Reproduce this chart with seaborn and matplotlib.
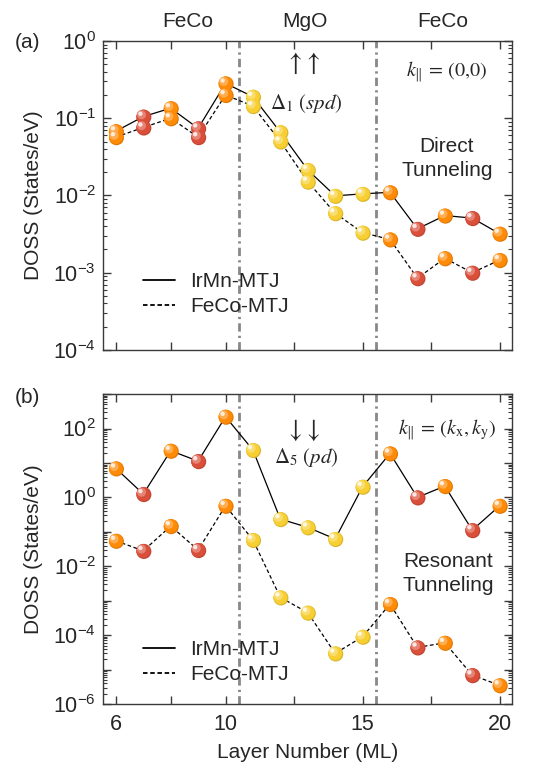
import numpy as np
import pandas as pd
import matplotlib
matplotlib.use('Agg')
import matplotlib.pyplot as plt
import seaborn as sns
import matplotlib.transforms as mtransforms
import matplotlib.colors as mcolors
from matplotlib.lines import Line2D
from matplotlib.ticker import LogLocator, FuncFormatter, FixedLocator, NullFormatter

# ---------------- data ----------------
layers = [6, 7, 8, 9, 10, 11, 12, 13, 14, 15, 16, 17, 18, 19, 20]
layer_group = ['orange', 'red', 'orange', 'red', 'orange',
               'yellow', 'yellow', 'yellow', 'yellow', 'yellow',
               'orange', 'red', 'orange', 'red', 'orange']
group_colors = {'orange': '#FF8A05', 'red': '#DA4F3A', 'yellow': '#F7CF32'}

a_irmn = [0.068, 0.105, 0.135, 0.074, 0.283, 0.19, 0.066, 0.0214, 0.0099,
          0.0105, 0.011, 0.0037, 0.0055, 0.0051, 0.0032]
a_feco = [0.057, 0.076, 0.10, 0.057, 0.20, 0.144, 0.050, 0.0151, 0.0059,
          0.0033, 0.0027, 0.00085, 0.00154, 0.0010, 0.00146]

b_irmn = [6.95, 1.25, 22.6, 11.3, 220, 23.7, 0.234, 0.135, 0.062,
          2.04, 18.9, 1.0, 2.13, 0.112, 0.57]
b_feco = [0.055, 0.028, 0.147, 0.0296, 0.57, 0.058, 0.00125, 0.00045, 2.95e-5,
          9.0e-5, 0.0008, 4.4e-5, 6.0e-5, 6.9e-6, 3.5e-6]

series_names = ['IrMn-MTJ', 'FeCo-MTJ']
region_labels = ['FeCo', 'MgO', 'FeCo']
interfaces = [10.5, 15.5]
xticks_major = [6, 10, 15, 20]
xticks_minor = [8, 12.5, 17.5]


def make_df(irmn, feco):
    rows = []
    for name, vals in zip(series_names, [irmn, feco]):
        for L, g, v in zip(layers, layer_group, vals):
            rows.append({'layer': L, 'group': g, 'series': name, 'doss': v})
    return pd.DataFrame(rows)


df_a = make_df(a_irmn, a_feco)
df_b = make_df(b_irmn, b_feco)

# ---------------- style ----------------
sns.set_theme(style='ticks')
plt.rcParams['font.family'] = ['Liberation Sans', 'DejaVu Sans']
plt.rcParams['mathtext.fontset'] = 'stix'
plt.rcParams['axes.edgecolor'] = '#3a3a3a'
plt.rcParams['axes.linewidth'] = 1.0

FS = 15

fig = plt.figure(figsize=(5.37, 7.68), dpi=100)
ax_a = fig.add_axes([0.1918, 0.5443, 0.7616, 0.4023])
ax_b = fig.add_axes([0.1918, 0.0833, 0.7616, 0.4036])


def lighten(c, f):
    r, g, b = mcolors.to_rgb(c)
    return (r + (1 - r) * f, g + (1 - g) * f, b + (1 - b) * f)


def darken(c, f):
    r, g, b = mcolors.to_rgb(c)
    return (r * (1 - f), g * (1 - f), b * (1 - f))


def draw_panel(ax, df, ylim):
    ax.set_yscale('log')
    sns.lineplot(data=df, x='layer', y='doss', style='series',
                 style_order=series_names,
                 dashes={'IrMn-MTJ': '', 'FeCo-MTJ': (3, 2)},
                 color='black', lw=0.9, ax=ax, legend=False, zorder=2,
                 estimator=None, sort=True)
    for x in interfaces:
        ax.axvline(x, color='#888888', lw=2.0, ls=(0, (3, 1.5, 0.8, 1.5)),
                   zorder=1)
    cols = [group_colors[g] for g in df['group']]
    # darker rim slightly offset down-right (shading)
    tr0 = ax.transData + mtransforms.ScaledTranslation(0.4 / 72, -0.4 / 72, fig.dpi_scale_trans)
    ax.scatter(df['layer'], df['doss'], s=118, c=[darken(c, 0.12) for c in cols],
               edgecolors='none', transform=tr0, zorder=3)
    sns.scatterplot(data=df, x='layer', y='doss', hue='group',
                    palette=group_colors, s=100, edgecolor='none',
                    ax=ax, legend=False, zorder=3.5)
    # sphere-like highlights
    tr1 = ax.transData + mtransforms.ScaledTranslation(-1.3 / 72, 1.3 / 72, fig.dpi_scale_trans)
    tr2 = ax.transData + mtransforms.ScaledTranslation(-2.1 / 72, 2.1 / 72, fig.dpi_scale_trans)
    ax.scatter(df['layer'], df['doss'], s=42, c=[lighten(c, 0.3) for c in cols],
               edgecolors='none', transform=tr1, zorder=4)
    ax.scatter(df['layer'], df['doss'], s=10, c=[lighten(c, 0.85) for c in cols],
               edgecolors='none', transform=tr2, zorder=5)

    ax.set_xlim(5.53, 20.45)
    ax.set_ylim(*ylim)
    ax.xaxis.set_major_locator(FixedLocator(xticks_major))
    ax.xaxis.set_minor_locator(FixedLocator(xticks_minor))
    ax.yaxis.set_major_locator(LogLocator(base=10, numticks=20))
    ax.yaxis.set_minor_locator(LogLocator(base=10, subs=np.arange(2, 10), numticks=20))
    ax.yaxis.set_minor_formatter(NullFormatter())
    ax.tick_params(which='both', direction='in', top=True, right=True,
                   color='#3a3a3a', labelsize=15.5, pad=5)
    ax.tick_params(axis='x', pad=7)
    ax.tick_params(which='major', length=6, width=1.0)
    ax.tick_params(axis='y', which='minor', length=3, width=0.8)
    ax.tick_params(axis='x', which='minor', length=6, width=1.0)
    ax.set_ylabel('DOSS (States/eV)', fontsize=FS)
    ax.yaxis.set_label_coords(-0.146, 0.5)
    ax.set_xlabel('')
    for t in ['top', 'bottom', 'left', 'right']:
        ax.spines[t].set_visible(True)


draw_panel(ax_a, df_a, (1e-4, 1e0))
draw_panel(ax_b, df_b, (1e-6, 1e3))

ax_a.yaxis.set_major_formatter(FuncFormatter(
    lambda v, p: r'$\mathregular{10^{%d}}$' % round(np.log10(v))))
ax_b.yaxis.set_major_formatter(FuncFormatter(
    lambda v, p: (r'$\mathregular{10^{%d}}$' % round(np.log10(v)))
    if round(np.log10(v)) % 2 == 0 else ''))
ax_a.tick_params(axis='x', labelbottom=False)
ax_b.set_xlabel('Layer Number (ML)', fontsize=FS)
ax_b.xaxis.set_label_coords(0.501, -0.127)

# region labels
for lab, xf in zip(region_labels, [0.208, 0.494, 0.831]):
    ax_a.text(xf, 1.062, lab, transform=ax_a.transAxes, ha='center',
              va='center', fontsize=FS)

fig.text(0.052, 0.945, '(a)', fontsize=FS, ha='center', va='center')
fig.text(0.052, 0.482, '(b)', fontsize=FS, ha='center', va='center')

# panel (a) annotations
ax_a.text(0.489, 0.927, r'$\uparrow\!\uparrow$', transform=ax_a.transAxes,
          ha='center', va='center', fontsize=19)
ax_a.text(0.497, 0.799, r'$\Delta_1\ (spd)$', transform=ax_a.transAxes,
          ha='center', va='center', fontsize=15)
ax_a.text(0.841, 0.900, r'$k_{\|}\,=\,(0{,}0)$', transform=ax_a.transAxes,
          ha='center', va='center', fontsize=14.5)
ax_a.text(0.841, 0.620, 'Direct\nTunneling', transform=ax_a.transAxes,
          ha='center', va='center', fontsize=FS, linespacing=1.3)

# panel (b) annotations
ax_b.text(0.489, 0.884, r'$\downarrow\!\downarrow$', transform=ax_b.transAxes,
          ha='center', va='center', fontsize=19)
ax_b.text(0.497, 0.794, r'$\Delta_5\ (pd)$', transform=ax_b.transAxes,
          ha='center', va='center', fontsize=15)
ax_b.text(0.841, 0.884, r'$k_{\|}\,=\,(k_{\mathrm{x}},k_{\mathrm{y}})$',
          transform=ax_b.transAxes, ha='center', va='center', fontsize=14.5)
ax_b.text(0.844, 0.421, 'Resonant\nTunneling', transform=ax_b.transAxes,
          ha='center', va='center', fontsize=FS, linespacing=1.3)

# legends
handles = [Line2D([], [], color='black', lw=1.3, ls='-'),
           Line2D([], [], color='black', lw=1.3, ls=(0, (2.5, 1.5)))]
for ax, yc in [(ax_a, 0.180), (ax_b, 0.135)]:
    ax.legend(handles, series_names, loc='center left',
              bbox_to_anchor=(0.098, yc), frameon=False, fontsize=FS,
              borderaxespad=0, borderpad=0, handlelength=1.55,
              handletextpad=0.7, labelspacing=0.3)

fig.savefig('out.png', dpi=100)
